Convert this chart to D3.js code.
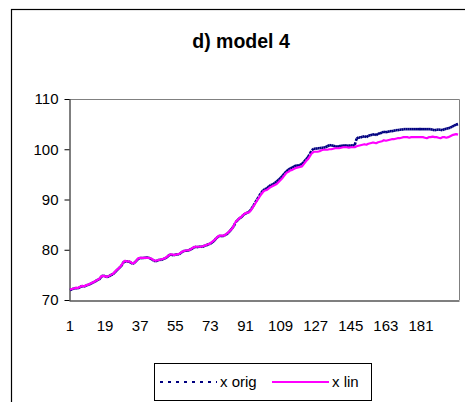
<!DOCTYPE html>
<html>
<head>
<meta charset="utf-8">
<script src="https://cdn.jsdelivr.net/npm/d3@7"></script>
<style>
  html, body { margin: 0; padding: 0; background: #fff; }
  svg { display: block; font-family: "Liberation Sans", Arial, sans-serif; }
</style>
</head>
<body>
<svg id="chart" width="465" height="402"></svg>
<script>
// Daily index, 200 observations
const titleText = "d) model 4";
const xTickLabels = [1, 19, 37, 55, 73, 91, 109, 127, 145, 163, 181];
const yTickValues = [70, 80, 90, 100, 110];
const seriesNames = ["x orig", "x lin"];

const xOrig = [
  72.0, 72.1, 72.3, 72.4, 72.3, 72.5, 72.8, 72.7, 72.8, 73.0,
  73.1, 73.3, 73.5, 73.7, 74.0, 74.1, 74.6, 74.9, 74.7, 74.6,
  74.7, 75.0, 75.1, 75.5, 75.9, 76.3, 76.6, 77.2, 77.8, 77.6,
  77.7, 77.5, 77.2, 77.4, 77.8, 78.2, 78.4, 78.3, 78.4, 78.4,
  78.5, 78.3, 78.1, 77.8, 77.7, 77.9, 78.0, 78.0, 78.2, 78.3,
  78.6, 79.0, 79.0, 78.9, 79.0, 79.1, 79.1, 79.4, 79.7, 79.8,
  79.8, 79.9, 80.1, 80.3, 80.6, 80.5, 80.6, 80.6, 80.6, 80.8,
  80.9, 81.1, 81.2, 81.5, 81.8, 82.3, 82.6, 82.8, 82.7, 82.8,
  83.0, 83.3, 83.7, 84.2, 84.7, 85.5, 85.9, 86.3, 86.5, 87.0,
  87.2, 87.4, 87.6, 88.1, 88.7, 89.4, 90.0, 90.7, 91.3, 91.8,
  92.1, 92.2, 92.6, 92.9, 93.0, 93.3, 93.6, 93.9, 94.3, 94.7,
  95.2, 95.6, 95.9, 96.2, 96.3, 96.6, 96.8, 96.7, 96.9, 97.1,
  97.5, 98.0, 98.4, 99.1, 99.8, 100.1, 100.1, 100.2, 100.2, 100.3,
  100.3, 100.4, 100.6, 100.8, 100.8, 100.7, 100.6, 100.5, 100.6, 100.7,
  100.7, 100.8, 100.7, 100.7, 100.8, 100.7, 100.8, 102.1, 102.4, 102.3,
  102.5, 102.6, 102.4, 102.7, 102.8, 102.9, 103.0, 102.8, 103.1, 103.2,
  103.3, 103.5, 103.4, 103.5, 103.6, 103.6, 103.7, 103.8, 103.8, 103.9,
  103.9, 104.0, 104.0, 104.0, 104.0, 104.0, 104.0, 104.0, 104.0, 104.0,
  104.0, 104.0, 104.0, 104.0, 104.0, 104.0, 103.9, 103.8, 103.9, 103.9,
  103.9, 103.8, 104.0, 104.1, 104.2, 104.3, 104.5, 104.7, 104.9, 105.0
];

const xLin = [
  72.1, 72.2, 72.3, 72.4, 72.4, 72.6, 72.8, 72.7, 72.9, 73.0,
  73.2, 73.4, 73.5, 73.8, 74.0, 74.2, 74.7, 74.8, 74.7, 74.6,
  74.8, 75.0, 75.2, 75.6, 76.0, 76.3, 76.7, 77.3, 77.8, 77.7,
  77.7, 77.6, 77.3, 77.4, 77.8, 78.3, 78.4, 78.4, 78.4, 78.4,
  78.4, 78.3, 78.2, 77.9, 77.8, 77.9, 78.0, 78.1, 78.2, 78.4,
  78.7, 79.0, 79.1, 79.0, 79.0, 79.1, 79.2, 79.5, 79.7, 79.8,
  79.9, 79.9, 80.1, 80.4, 80.6, 80.6, 80.6, 80.6, 80.7, 80.8,
  81.0, 81.1, 81.3, 81.6, 81.9, 82.3, 82.7, 82.8, 82.8, 82.8,
  83.1, 83.4, 83.8, 84.1, 84.8, 85.6, 85.9, 86.3, 86.6, 87.0,
  87.3, 87.4, 87.5, 88.0, 88.6, 89.2, 89.8, 90.4, 91.0, 91.5,
  91.8, 91.9, 92.2, 92.5, 92.7, 92.9, 93.1, 93.5, 93.9, 94.3,
  94.8, 95.3, 95.5, 95.8, 95.9, 96.1, 96.3, 96.4, 96.5, 96.6,
  97.1, 97.6, 98.0, 98.6, 99.2, 99.5, 99.5, 99.5, 99.6, 99.8,
  99.9, 99.9, 99.9, 100.0, 100.0, 100.1, 100.2, 100.2, 100.2, 100.3,
  100.4, 100.4, 100.4, 100.3, 100.4, 100.4, 100.4, 100.6, 100.7, 100.8,
  100.9, 101.0, 100.9, 101.1, 101.2, 101.3, 101.3, 101.2, 101.4, 101.5,
  101.6, 101.8, 101.7, 101.8, 101.9, 102.0, 102.0, 102.1, 102.2, 102.2,
  102.3, 102.4, 102.4, 102.4, 102.3, 102.4, 102.4, 102.4, 102.4, 102.4,
  102.4, 102.4, 102.3, 102.2, 102.4, 102.4, 102.5, 102.4, 102.4, 102.3,
  102.2, 102.4, 102.4, 102.3, 102.4, 102.6, 102.8, 102.9, 103.0, 102.9
];

const days = d3.range(1, xLin.length + 1);

const svg = d3.select("#chart");
const plot = { left: 69, right: 459, top: 99, bottom: 300 };

// Outer chart frame (extends past the visible window on the right and bottom)
svg.append("rect")
  .attr("x", 11.5).attr("y", 9.5)
  .attr("width", 480).attr("height", 420)
  .attr("fill", "#fff").attr("stroke", "#000").attr("stroke-width", 1.2);

// Title
svg.append("text")
  .attr("x", 241).attr("y", 48)
  .attr("text-anchor", "middle")
  .attr("font-size", 19.5).attr("font-weight", "bold")
  .text(titleText);

const x = d3.scaleBand().domain(days).range([plot.left, plot.right]);
const cx = d => x(d) + x.bandwidth() / 2;
const y = d3.scaleLinear().domain([70, 110]).range([plot.bottom, plot.top]);

// Plot area border (top and right in grey)
svg.append("path")
  .attr("d", `M${plot.left},${plot.top + 0.5}H${plot.right + 0.5}V${plot.bottom}`)
  .attr("fill", "none").attr("stroke", "#808080").attr("stroke-width", 1);

// Y axis
const yAxis = svg.append("g")
  .attr("transform", `translate(${plot.left + 0.5},0)`)
  .call(d3.axisLeft(y).tickValues(yTickValues).tickSize(5).tickSizeOuter(0).tickPadding(6));
yAxis.selectAll("text").attr("font-size", 15).attr("fill", "#000")
  .attr("font-family", "Liberation Sans, Arial, sans-serif");
yAxis.selectAll("path, line").attr("stroke", "#000");

// X axis
const xAxis = svg.append("g")
  .attr("transform", `translate(0,${plot.bottom + 0.5})`)
  .call(d3.axisBottom(x).tickValues(xTickLabels).tickSize(0).tickSizeOuter(0).tickPadding(20));
xAxis.selectAll("text").attr("font-size", 15).attr("fill", "#000")
  .attr("font-family", "Liberation Sans, Arial, sans-serif");
xAxis.select("path").attr("stroke", "#000").attr("stroke-width", 1.2);

// x orig: dashed pattern restarts on every segment, so short steps read as solid
const origPairs = d3.pairs(days.map((d, i) => [cx(d), y(xOrig[i])]));
svg.append("g").selectAll("line")
  .data(origPairs).join("line")
  .attr("x1", p => p[0][0]).attr("y1", p => p[0][1])
  .attr("x2", p => p[1][0]).attr("y2", p => p[1][1])
  .attr("stroke", "#000080").attr("stroke-width", 2.6)
  .attr("stroke-dasharray", "3,1.5");

// x lin: solid magenta
const line = d3.line().x((d, i) => cx(days[i])).y(d => y(d));
svg.append("path")
  .datum(xLin)
  .attr("d", line)
  .attr("fill", "none").attr("stroke", "#ff00ff").attr("stroke-width", 2.2)
  .attr("stroke-linejoin", "round");

// Legend
const lg = svg.append("g");
lg.append("rect")
  .attr("x", 154.5).attr("y", 363.5).attr("width", 217).attr("height", 37)
  .attr("fill", "#fff").attr("stroke", "#000").attr("stroke-width", 1);
lg.append("line")
  .attr("x1", 160).attr("x2", 217).attr("y1", 382).attr("y2", 382)
  .attr("stroke", "#000080").attr("stroke-width", 2)
  .attr("stroke-dasharray", "3,5");
lg.append("text").attr("x", 220).attr("y", 387).attr("font-size", 15).text(seriesNames[0]);
lg.append("line")
  .attr("x1", 272).attr("x2", 329).attr("y1", 382).attr("y2", 382)
  .attr("stroke", "#ff00ff").attr("stroke-width", 2);
lg.append("text").attr("x", 332).attr("y", 387).attr("font-size", 15).text(seriesNames[1]);
</script>
</body>
</html>
